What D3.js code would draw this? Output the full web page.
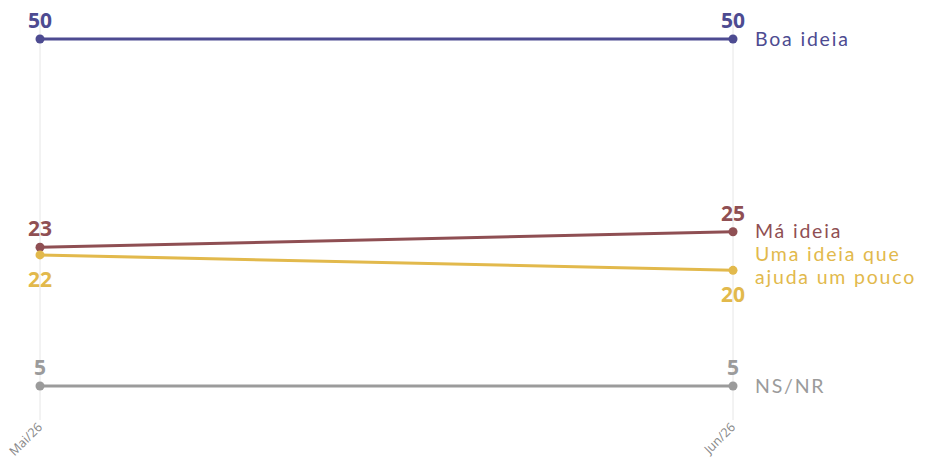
<!DOCTYPE html>
<html><head><meta charset="utf-8">
<script src="https://cdn.jsdelivr.net/npm/d3@7"></script>
<style>body{margin:0;background:#fff;} svg{display:block;font-family:"Open Sans",sans-serif;}</style>
</head><body>
<svg id="c" width="932" height="467"></svg>
<script>
const periods = ["Mai/26", "Jun/26"];
const seriesNames = ["Boa ideia", "Má ideia", "Uma ideia que ajuda um pouco", "NS/NR"];
const boa = [50, 50];
const ma = [23, 25];
const uma = [22, 20];
const nsnr = [5, 5];
const colors = ["#4d4b91", "#8f4f53", "#e2b94c", "#9b9b9b"];
const labelLines = [["Boa ideia"], ["Má ideia"], ["Uma ideia que", "ajuda um pouco"], ["NS/NR"]];
const labelPos = ["above", "above", "below", "above"];

const values = [boa, ma, uma, nsnr];
const svg = d3.select("#c");
const x = d3.scalePoint().domain(periods).range([40, 733]);
const y = d3.scaleLinear().domain([5, 50]).range([386, 39]);

// gridlines
svg.append("g").selectAll("line").data(periods).join("line")
  .attr("x1", d => x(d)).attr("x2", d => x(d))
  .attr("y1", 14).attr("y2", 420)
  .attr("stroke", "#e6e6e6").attr("stroke-width", 1);

// x axis labels
svg.append("g").selectAll("text").data(periods).join("text")
  .attr("transform", d => `translate(${x(d)+3},${428}) rotate(-45)`)
  .attr("text-anchor", "end")
  .attr("font-size", 12.5).attr("fill", "#888")
  .text(d => d);

const line = d3.line().x((d, i) => x(periods[i])).y(d => y(d));

values.forEach((vals, s) => {
  const g = svg.append("g");
  g.append("path").datum(vals).attr("d", line)
    .attr("fill", "none").attr("stroke", colors[s]).attr("stroke-width", 3);
  g.selectAll("circle").data(vals).join("circle")
    .attr("cx", (d, i) => x(periods[i])).attr("cy", d => y(d)).attr("r", 4.5)
    .attr("fill", colors[s]);
  g.selectAll("text.v").data(vals).join("text").attr("class", "v")
    .attr("x", (d, i) => x(periods[i]))
    .attr("y", d => labelPos[s] === "above" ? y(d) - 11 : y(d) + 32)
    .attr("text-anchor", "middle").attr("font-size", 21).attr("font-weight", 700)
    .attr("fill", colors[s]).text(d => d);
  const last = vals[vals.length - 1];
  const lines = labelLines[s];
  const lh = 23.5;
  const baseY = s === 2 ? y(last) - 16.5 : (s === 1 ? y(last) - 1 : y(last));
  g.append("text").attr("x", 755).attr("font-family", "Lato, sans-serif")
    .attr("font-size", 19.5).attr("letter-spacing", 1.8)
    .attr("fill", colors[s])
    .selectAll("tspan").data(lines).join("tspan")
    .attr("x", 755)
    .attr("y", (d, i) => baseY + i * lh + 7)
    .text(d => d);
});
</script>
</body></html>
